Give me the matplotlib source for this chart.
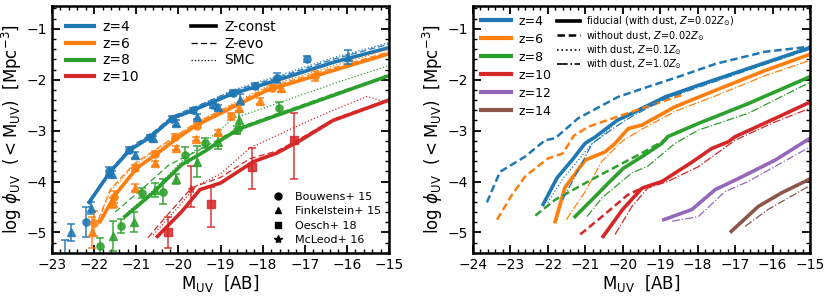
import matplotlib
matplotlib.use("Agg")
import matplotlib.pyplot as plt
import numpy as np
from matplotlib.lines import Line2D
from matplotlib.ticker import MultipleLocator

# ---------------- left panel: models ----------------
z4_const_M = [-22.12, -21.62, -21.15, -20.67, -20.15, -19.65, -18.7, -18.13, -17.66, -16.33, -15.0]
z4_const_p = [-4.41, -3.81, -3.38, -3.13, -2.76, -2.6, -2.27, -2.13, -2.01, -1.66, -1.37]
z4_evo_p = [-4.38, -3.78, -3.33, -3.08, -2.72, -2.55, -2.22, -2.08, -1.96, -1.6, -1.3]
z4_smc_p = [-4.40, -3.79, -3.35, -3.10, -2.73, -2.56, -2.20, -2.05, -1.93, -1.57, -1.27]

z6_const_M = [-21.86, -21.5, -20.98, -20.55, -20.03, -19.56, -18.54, -17.9, -16.33, -15.0]
z6_const_p = [-4.79, -4.26, -3.73, -3.48, -3.15, -2.89, -2.47, -2.21, -1.82, -1.49]
z6_evo_M = [-21.9, -21.62, -21.05, -20.55, -20.03, -19.56, -18.54, -17.9, -16.33, -15.0]
z6_evo_p = [-4.75, -4.16, -3.65, -3.38, -3.08, -2.84, -2.42, -2.16, -1.77, -1.45]
z6_smc_p = [-4.78, -4.20, -3.68, -3.40, -3.10, -2.83, -2.40, -2.13, -1.73, -1.40]

z8_const_M = [-21.27, -20.6, -19.92, -19.32, -19.0, -18.54, -17.66, -16.33, -15.0]
z8_const_p = [-4.69, -4.22, -3.67, -3.38, -3.19, -2.96, -2.7, -2.31, -1.92]
z8_evo_M = [-21.5, -20.8, -20.22, -19.6, -19.0, -18.54, -17.66, -16.33, -15.0]
z8_evo_p = [-4.6, -4.1, -3.67, -3.42, -3.15, -2.93, -2.67, -2.28, -1.9]
z8_smc_M = [-21.3, -20.6, -19.92, -19.32, -18.7, -17.66, -16.33, -15.0]
z8_smc_p = [-4.67, -4.18, -3.6, -3.2, -2.76, -2.47, -2.08, -1.72]

z10_const_M = [-20.5, -19.92, -19.49, -19.0, -18.22, -17.66, -17.1, -16.33, -15.0]
z10_const_p = [-5.08, -4.59, -4.16, -4.03, -3.61, -3.44, -3.19, -2.8, -2.4]
z10_evo_M = [-20.72, -20.2, -19.68, -19.0, -18.3, -17.66, -17.1, -16.33, -15.0]
z10_evo_p = [-5.1, -4.6, -4.12, -3.92, -3.55, -3.4, -3.15, -2.78, -2.38]
z10_smc_M = [-20.6, -20.0, -19.6, -19.0, -18.3, -17.23, -16.33, -15.52, -15.0]
z10_smc_p = [-5.05, -4.5, -4.1, -3.85, -3.34, -2.93, -2.6, -2.33, -2.46]

# ---------------- left panel: observations ----------------
b15_z4_M = [-22.69, -22.2, -21.65, -21.17, -20.67, -20.15, -19.66, -19.17, -18.7, -18.18, -17.66, -16.95]
b15_z4_p = [-5.6, -4.8, -3.8, -3.38, -3.13, -2.77, -2.6, -2.5, -2.26, -2.13, -1.96, -1.59]
b15_z4_e = [0.46, 0.3, 0.08, 0.06, 0.05, 0.05, 0.05, 0.05, 0.06, 0.06, 0.1, 0.06]
f15_z4_M = [-22.55, -22.07, -21.58, -21.03, -20.6, -20.06, -19.56, -19.05, -18.54, -15.97]
f15_z4_p = [-5.0, -4.52, -3.85, -3.48, -3.15, -2.85, -2.73, -2.54, -2.39, -1.56]
f15_z4_e = [0.17, 0.12, 0.06, 0.05, 0.05, 0.05, 0.05, 0.05, 0.1, 0.14]

b15_z6_M = [-22.0, -21.53, -21.03, -20.55, -20.08, -19.56, -18.75, -17.78, -16.76]
b15_z6_p = [-4.82, -4.3, -3.73, -3.45, -3.12, -2.9, -2.72, -2.17, -1.92]
b15_z6_e = [0.25, 0.12, 0.06, 0.05, 0.05, 0.05, 0.07, 0.06, 0.1]
f15_z6_M = [-22.05, -21.55, -21.03, -20.55, -20.06, -19.58, -19.06, -18.57, -18.06, -17.56]
f15_z6_p = [-5.0, -4.42, -4.12, -3.64, -3.35, -3.17, -3.03, -2.56, -2.41, -2.17]
f15_z6_e = [0.3, 0.1, 0.07, 0.05, 0.04, 0.04, 0.05, 0.08, 0.06, 0.07]

b15_z8_M = [-21.86, -21.36, -20.86, -20.36, -19.84, -19.37, -18.6, -17.61]
b15_z8_p = [-5.27, -4.87, -4.22, -4.2, -3.48, -3.25, -2.98, -2.55]
b15_z8_e = [0.16, 0.14, 0.1, 0.25, 0.15, 0.1, 0.08, 0.12]
f15_z8_M = [-21.55, -21.05, -20.55, -20.06, -19.56, -19.06, -18.57]
f15_z8_p = [-5.07, -4.8, -4.16, -3.95, -3.61, -3.22, -2.8]
f15_z8_e = [0.3, 0.2, 0.14, 0.1, 0.3, 0.14, 0.18]

m16_z10_M = [-19.7]
m16_z10_p = [-4.15]
m16_z10_lo = [0.35]
m16_z10_hi = [0.45]
o18_z10_M = [-20.24, -19.23, -18.25, -17.25]
o18_z10_p = [-5.0, -4.45, -3.71, -3.19]
o18_z10_lo = [0.3, 0.45, 0.44, 0.76]
o18_z10_hi = [0.3, 0.35, 0.37, 0.53]

# ---------------- right panel ----------------
r4_fid_M = [-22.12, -21.75, -21.35, -21.0, -20.74, -20.15, -19.75, -18.87, -17.98, -16.65, -15.0]
r4_fid_p = [-4.45, -3.93, -3.58, -3.25, -3.13, -2.8, -2.66, -2.34, -2.11, -1.78, -1.37]
r4_nod_M = [-23.62, -23.27, -22.6, -22.07, -21.8, -21.19, -20.13, -19.33, -18.42, -17.53, -16.2, -15.0]
r4_nod_p = [-4.41, -3.81, -3.51, -3.19, -3.15, -2.76, -2.34, -2.14, -1.92, -1.69, -1.45, -1.35]
r4_z01_M = [-22.0, -21.6, -21.2, -20.85, -20.6, -20.15, -19.75, -18.87, -17.98, -16.65, -15.0]
r4_z01_p = [-4.42, -3.95, -3.6, -3.28, -3.14, -2.82, -2.68, -2.36, -2.12, -1.79, -1.38]
r4_z1_M = [-21.6, -21.2, -20.81, -20.2, -19.75, -18.87, -17.98, -16.65, -15.0]
r4_z1_p = [-4.36, -3.8, -3.25, -2.93, -2.72, -2.38, -2.15, -1.81, -1.4]

r6_fid_M = [-21.8, -21.54, -21.0, -20.47, -20.2, -19.85, -19.48, -18.6, -17.53, -16.2, -15.0]
r6_fid_p = [-4.79, -4.12, -3.58, -3.42, -3.25, -2.96, -2.89, -2.53, -2.21, -1.82, -1.5]
r6_nod_M = [-23.35, -22.95, -22.6, -22.0, -21.6, -21.3, -20.9, -20.55, -19.75, -18.42]
r6_nod_p = [-4.75, -4.26, -3.9, -3.55, -3.45, -3.1, -2.92, -2.83, -2.63, -2.3]
r6_z01_M = [-21.75, -21.5, -21.0, -20.47, -20.2, -19.85, -19.48, -18.6, -17.53, -16.2, -15.0]
r6_z01_p = [-4.75, -4.1, -3.55, -3.4, -3.23, -2.95, -2.87, -2.52, -2.2, -1.81, -1.49]
r6_z1_M = [-21.5, -21.0, -20.55, -20.0, -19.5, -18.6, -17.53, -16.2, -15.0]
r6_z1_p = [-4.75, -4.2, -3.6, -3.2, -2.98, -2.62, -2.32, -1.92, -1.62]

r8_fid_M = [-21.27, -20.82, -20.38, -19.98, -19.48, -18.95, -18.8, -17.98, -16.65, -15.0]
r8_fid_p = [-4.69, -4.36, -4.03, -3.74, -3.51, -3.25, -3.12, -2.86, -2.47, -1.94]
r8_nod_M = [-22.33, -21.8, -20.82, -20.0, -19.33, -18.8]
r8_nod_p = [-4.67, -4.36, -3.96, -3.64, -3.38, -3.15]
r8_z1_M = [-20.95, -20.55, -19.75, -19.33, -18.6, -17.98, -16.65, -15.0]
r8_z1_p = [-4.69, -4.32, -3.83, -3.7, -3.25, -2.99, -2.66, -2.05]

r10_fid_M = [-20.52, -20.0, -19.48, -19.2, -18.95, -18.15, -17.62, -17.18, -17.0, -15.93, -15.0]
r10_fid_p = [-5.08, -4.55, -4.13, -4.06, -4.0, -3.62, -3.35, -3.22, -3.12, -2.76, -2.44]
r10_nod_M = [-21.13, -20.55, -19.86, -19.48]
r10_nod_p = [-5.04, -4.69, -4.26, -4.13]
r10_z1_M = [-20.2, -19.75, -19.33, -18.8, -17.98, -17.0, -16.0, -15.0]
r10_z1_p = [-5.04, -4.49, -4.13, -4.0, -3.71, -3.19, -2.85, -2.56]

r12_fid_M = [-18.9, -18.15, -17.53, -16.82, -15.93, -15.0]
r12_fid_p = [-4.75, -4.55, -4.16, -3.91, -3.58, -3.15]
r12_z1_M = [-18.68, -17.98, -17.27, -16.65, -15.0]
r12_z1_p = [-4.78, -4.69, -4.2, -4.0, -3.32]

r14_fid_M = [-17.1, -16.38, -15.75, -15.0]
r14_fid_p = [-4.98, -4.49, -4.22, -3.95]
r14_z1_M = [-16.73, -16.12, -15.0]
r14_z1_p = [-4.88, -4.55, -4.08]

C = ['#1f77b4', '#ff7f0e', '#2ca02c', '#d62728', '#9467bd', '#8c564b']

fig = plt.figure(figsize=(8.3, 2.97), dpi=100)
ax1 = fig.add_axes([0.0627, 0.149, 0.406, 0.831])
ax2 = fig.add_axes([0.5695, 0.149, 0.4064, 0.831])

lw_thick = 2.6
lw_thin = 0.9

left_models = [
    (z4_const_M, z4_const_p, z4_const_M, z4_evo_p, z4_const_M, z4_smc_p, C[0]),
    (z6_const_M, z6_const_p, z6_evo_M, z6_evo_p, z6_evo_M, z6_smc_p, C[1]),
    (z8_const_M, z8_const_p, z8_evo_M, z8_evo_p, z8_smc_M, z8_smc_p, C[2]),
    (z10_const_M, z10_const_p, z10_evo_M, z10_evo_p, z10_smc_M, z10_smc_p, C[3]),
]
for cM, cp, eM, ep, sM, sp, col in left_models:
    ax1.plot(cM, cp, '-', color=col, lw=lw_thick)
    ax1.plot(eM, ep, '--', color=col, lw=lw_thin, dashes=(5, 2.5))
    ax1.plot(sM, sp, ':', color=col, lw=lw_thin)

ekw = dict(ls='none', ms=5.2, capsize=2.8, elinewidth=1.2, capthick=1.2, alpha=0.85)
ax1.errorbar(b15_z4_M, b15_z4_p, yerr=b15_z4_e, marker='o', color=C[0], **ekw)
ax1.errorbar(f15_z4_M, f15_z4_p, yerr=f15_z4_e, marker='^', color=C[0], **ekw)
ax1.errorbar(b15_z6_M, b15_z6_p, yerr=b15_z6_e, marker='o', color=C[1], **ekw)
ax1.errorbar(f15_z6_M, f15_z6_p, yerr=f15_z6_e, marker='^', color=C[1], **ekw)
ax1.errorbar(b15_z8_M, b15_z8_p, yerr=b15_z8_e, marker='o', color=C[2], **ekw)
ax1.errorbar(f15_z8_M, f15_z8_p, yerr=f15_z8_e, marker='^', color=C[2], **ekw)
ax1.errorbar(m16_z10_M, m16_z10_p, yerr=[m16_z10_lo, m16_z10_hi], marker='*', color=C[3], **ekw)
ax1.errorbar(o18_z10_M, o18_z10_p, yerr=[o18_z10_lo, o18_z10_hi], marker='s', color=C[3], **ekw)

right_models = [
    (r4_fid_M, r4_fid_p, C[0]), (r6_fid_M, r6_fid_p, C[1]), (r8_fid_M, r8_fid_p, C[2]),
    (r10_fid_M, r10_fid_p, C[3]), (r12_fid_M, r12_fid_p, C[4]), (r14_fid_M, r14_fid_p, C[5]),
]
for M, p, col in right_models:
    ax2.plot(M, p, '-', color=col, lw=lw_thick)
for M, p, col in [(r4_nod_M, r4_nod_p, C[0]), (r6_nod_M, r6_nod_p, C[1]),
                  (r8_nod_M, r8_nod_p, C[2]), (r10_nod_M, r10_nod_p, C[3])]:
    ax2.plot(M, p, '--', color=col, lw=1.8, dashes=(3, 1.5))
for M, p, col in [(r4_z01_M, r4_z01_p, C[0]), (r6_z01_M, r6_z01_p, C[1])]:
    ax2.plot(M, p, ':', color=col, lw=lw_thin)
for M, p, col in [(r4_z1_M, r4_z1_p, C[0]), (r6_z1_M, r6_z1_p, C[1]), (r8_z1_M, r8_z1_p, C[2]),
                  (r10_z1_M, r10_z1_p, C[3]), (r12_z1_M, r12_z1_p, C[4]), (r14_z1_M, r14_z1_p, C[5])]:
    ax2.plot(M, p, '-.', color=col, lw=lw_thin)

ylab = r'log $\phi_{\rm UV}$  $(<{\rm M_{UV}})$  [Mpc$^{-3}$]'
xlab = r'M$_{\rm UV}$  [AB]'
for ax, xl in [(ax1, (-23, -15)), (ax2, (-24, -15))]:
    ax.set_xlim(*xl)
    ax.set_ylim(-5.4, -0.55)
    ax.xaxis.set_major_locator(MultipleLocator(1))
    ax.xaxis.set_minor_locator(MultipleLocator(0.2))
    ax.yaxis.set_major_locator(MultipleLocator(1))
    ax.yaxis.set_minor_locator(MultipleLocator(0.2))
    ax.tick_params(which='both', direction='in', top=True, right=True, labelsize=10)
    ax.tick_params(which='major', length=6, width=1.3)
    ax.tick_params(which='minor', length=3, width=1.0)
    for s in ax.spines.values():
        s.set_linewidth(1.8)
    ax.set_xlabel(xlab, fontsize=12, labelpad=1)
    ax.set_ylabel(ylab, fontsize=12, labelpad=2)

# legends left
zl = ['z=4', 'z=6', 'z=8', 'z=10']
hz = [Line2D([], [], color=C[i], lw=3) for i in range(4)]
leg1 = ax1.legend(hz, zl, loc='upper left', fontsize=10, frameon=False,
                  handlelength=2.0, handletextpad=0.6, borderaxespad=0.6, labelspacing=0.2)
ax1.add_artist(leg1)
hs = [Line2D([], [], color='k', ls='-', lw=2.6),
      Line2D([], [], color='k', ls='--', lw=0.9, dashes=(5, 2.5)),
      Line2D([], [], color='k', ls=':', lw=0.9)]
leg2 = ax1.legend(hs, ['Z-const', 'Z-evo', 'SMC'], loc='upper left', bbox_to_anchor=(0.37, 1.0),
                  fontsize=10, frameon=False, handlelength=1.8, handletextpad=0.6,
                  borderaxespad=0.6, labelspacing=0.2)
ax1.add_artist(leg2)
hm = [Line2D([], [], color='k', ls='none', marker=m, ms=ms) for m, ms in
      [('o', 5), ('^', 5), ('s', 5), ('*', 6)]]
ax1.legend(hm, ['Bouwens+ 15', 'Finkelstein+ 15', 'Oesch+ 18', 'McLeod+ 16'], loc='lower right',
           fontsize=8, frameon=False, handlelength=1.5, labelspacing=0.4, borderaxespad=0.3)

# legends right
zl2 = ['z=4', 'z=6', 'z=8', 'z=10', 'z=12', 'z=14']
hz2 = [Line2D([], [], color=C[i], lw=3) for i in range(6)]
leg3 = ax2.legend(hz2, zl2, loc='upper left', fontsize=9, frameon=False,
                  handlelength=2.4, handletextpad=0.6, borderaxespad=0.3, labelspacing=0.4)
ax2.add_artist(leg3)
hs2 = [Line2D([], [], color='k', ls='-', lw=2.6),
       Line2D([], [], color='k', ls='--', lw=1.8, dashes=(3, 1.5)),
       Line2D([], [], color='k', ls=':', lw=1.2),
       Line2D([], [], color='k', ls='-.', lw=1.2)]
ax2.legend(hs2, [r'fiducial (with dust, $Z\!=\!0.02Z_{\odot}$)',
                 r'without dust, $Z\!=\!0.02Z_{\odot}$',
                 r'with dust, $Z\!=\!0.1Z_{\odot}$',
                 r'with dust, $Z\!=\!1.0Z_{\odot}$'],
           loc='upper left', bbox_to_anchor=(0.225, 1.0), fontsize=7, frameon=False,
           handlelength=2.3, handletextpad=0.7, labelspacing=0.05)

fig.savefig('out.png', dpi=100)
